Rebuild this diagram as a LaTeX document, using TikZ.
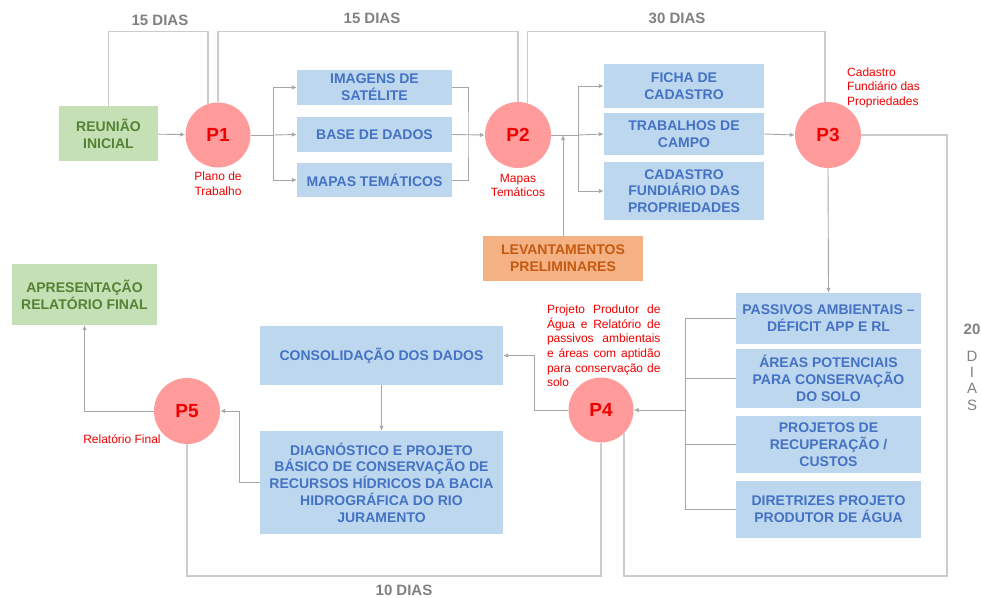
\documentclass[tikz,border=0pt]{standalone}
\usepackage{fontspec}
\setmainfont{Liberation Sans}
\usetikzlibrary{positioning,arrows.meta}
\definecolor{caixaazul}{HTML}{BDD7EE}
\definecolor{textoazul}{HTML}{4472C4}
\definecolor{caixaverde}{HTML}{C5E0B4}
\definecolor{textoverde}{HTML}{548235}
\definecolor{caixalaranja}{HTML}{F4B183}
\definecolor{textolaranja}{HTML}{C55A11}
\definecolor{rosa}{HTML}{FF9B9B}
\definecolor{vermelho}{HTML}{F00000}
\definecolor{cinza}{HTML}{808080}
\definecolor{cinzaseta}{HTML}{A6A6A6}
\definecolor{cinzalinha}{HTML}{CCCCCC}
\begin{document}
\begin{tikzpicture}[x=1pt,y=-1pt,
  tarefa/.style={fill=caixaazul,text=textoazul,font=\bfseries\fontsize{14}{16.8}\selectfont,align=center,inner sep=0pt},
  marco/.style={circle,fill=rosa,text=vermelho,font=\bfseries\fontsize{19}{19}\selectfont,minimum size=65pt,inner sep=0pt},
  nota/.style={text=vermelho,font=\fontsize{12}{14.6}\selectfont,inner sep=0pt},
  prazo/.style={text=cinza,font=\bfseries\fontsize{15}{15}\selectfont,inner sep=0pt},
  seta/.style={draw=cinzaseta,line width=0.9pt,-{Latex[length=5pt,width=4.5pt]}},
  liga/.style={draw=cinzaseta,line width=0.9pt},
  tempo/.style={draw=cinzalinha,line width=1.3pt}]

\useasboundingbox (0,0) rectangle (981,597);

% etapas
\node[tarefa,fill=caixaverde,text=textoverde,minimum width=99pt,minimum height=55pt] (reuniao) at (108.5,133.5) {REUNIÃO\\INICIAL};
\node[marco] (p1) at (218,135) {P1};
\node[tarefa,minimum width=155pt,minimum height=35pt] (imagens) at (374.5,87.5) {IMAGENS DE\\SATÉLITE};
\node[tarefa,minimum width=155pt,minimum height=35pt] (base) at (374.5,134.5) {BASE DE DADOS};
\node[tarefa,minimum width=155pt,minimum height=34pt] (mapas) at (374.5,180) {MAPAS TEMÁTICOS};
\node[marco,minimum size=66pt] (p2) at (518,135) {P2};
\node[tarefa,minimum width=160pt,minimum height=44pt] (ficha) at (684,86) {FICHA DE\\CADASTRO};
\node[tarefa,minimum width=160pt,minimum height=42pt] (trabalhos) at (684,134) {TRABALHOS DE\\CAMPO};
\node[tarefa,minimum width=160pt,minimum height=58pt] (cadastro) at (684,191) {CADASTRO\\FUNDIÁRIO DAS\\PROPRIEDADES};
\node[tarefa,fill=caixalaranja,text=textolaranja,minimum width=160pt,minimum height=45pt] (levantamentos) at (563,258.5) {LEVANTAMENTOS\\PRELIMINARES};
\node[marco,minimum size=66pt] (p3) at (828,135) {P3};
\node[tarefa,minimum width=185pt,minimum height=51pt] (passivos) at (828.5,318.5) {PASSIVOS AMBIENTAIS --\\DÉFICIT APP E RL};
\node[tarefa,minimum width=185pt,minimum height=59pt] (areas) at (828.5,378.5) {ÁREAS POTENCIAIS\\PARA CONSERVAÇÃO\\DO SOLO};
\node[tarefa,minimum width=185pt,minimum height=57pt] (projetos) at (828.5,444.5) {PROJETOS DE\\RECUPERAÇÃO /\\CUSTOS};
\node[tarefa,minimum width=185pt,minimum height=57pt] (diretrizes) at (828.5,509.5) {DIRETRIZES PROJETO\\PRODUTOR DE ÁGUA};
\node[marco] (p4) at (601,410) {P4};
\node[tarefa,minimum width=243pt,minimum height=59pt] (consolidacao) at (381.5,355.5) {CONSOLIDAÇÃO DOS DADOS};
\node[tarefa,minimum width=243pt,minimum height=103pt] (diagnostico) at (381.5,482.5) {DIAGNÓSTICO E PROJETO\\BÁSICO DE CONSERVAÇÃO DE\\RECURSOS HÍDRICOS DA BACIA\\HIDROGRÁFICA DO RIO\\JURAMENTO};
\node[marco,minimum size=66pt] (p5) at (187,411) {P5};
\node[tarefa,fill=caixaverde,text=textoverde,minimum width=145pt,minimum height=61pt] (apresentacao) at (84.5,294.5) {APRESENTAÇÃO\\RELATÓRIO FINAL};

% produtos
\node[nota,align=center] (n1) at (218,184) {Plano de\\Trabalho};
\node[nota,align=center] (n2) at (518,185.5) {Mapas\\Temáticos};
\node[nota,align=left,anchor=west] (n3) at (847,87.5) {Cadastro\\Fundiário das\\Propriedades};
\node[nota,text width=113.5pt,align=justify] (n4) at (603.75,346) {Projeto Produtor de\linebreak Água e Relatório de\linebreak passivos ambientais\linebreak e áreas com aptidão\linebreak para conservação de\linebreak solo};
\node[nota] (n5) at (122,439) {Relatório Final};

% fluxo
\coordinate (b1) at (273,135);
\coordinate (m1) at (468,135);
\coordinate (b2) at (578,135);
\coordinate (b3) at (685,410);
\draw[seta] (reuniao) -- (p1);
\draw[liga] (p1.east) -- (b1);
\draw[seta] (b1) |- (imagens.west);
\draw[seta] (b1) -- (base.west);
\draw[seta] (b1) |- (mapas.west);
\draw[liga] (imagens.east) -| (m1) |- (mapas.east);
\draw[seta] (base.east) -- (p2.west);
\draw[liga] (p2.east) -- (b2);
\draw[seta] (b2) |- (ficha.west);
\draw[seta] (b2) -- (trabalhos.west);
\draw[seta] (b2) |- (cadastro.west);
\draw[seta] (levantamentos.north) -- (levantamentos.north |- b2);
\draw[seta] (trabalhos.east) -- (p3.west);
\draw[seta] (p3.south) -- (passivos.north);
\draw[liga] (passivos.west) -- (passivos.west -| b3) -- (diretrizes.west -| b3) -- (diretrizes.west);
\draw[liga] (areas.west) -- (areas.west -| b3);
\draw[liga] (projetos.west) -- (projetos.west -| b3);
\draw[seta] (b3) -- (p4.east);
\draw[seta] (p4.west) -- ++(-33.5,0) |- (consolidacao.east);
\draw[seta] (consolidacao) -- (diagnostico);
\draw[seta] (diagnostico.west) -- ++(-20,0) |- (p5.east);
\draw[seta] (p5.west) -| (apresentacao.south);

% prazos
\coordinate (topo) at (0,31.5);
\coordinate (fundo) at (947,576);
\draw[tempo] (reuniao.north) -- (reuniao.north |- topo) -| (p1.108);
\draw[tempo] (p1.north) -- (p1.north |- topo) -| (p2.north);
\draw[tempo] (p2.74) -- (p2.74 |- topo) -| (p3.95);
\draw[tempo] (p3.east) -| (fundo) -| (p4.-45);
\draw[tempo] (p5.south) |- (p4.south |- fundo) -- (p4.south);
\node[prazo] (t1) at (160,20) {15 DIAS};
\node[prazo] (t2) at (372,18) {15 DIAS};
\node[prazo] (t3) at (677,18) {30 DIAS};
\node[prazo,font=\fontsize{15}{16.3}\selectfont,align=center] (t4) at (972,367) {\textbf{20}\\[10.7pt]D\\I\\A\\S};
\node[prazo] (t5) at (404,590) {10 DIAS};

\end{tikzpicture}
\end{document}
